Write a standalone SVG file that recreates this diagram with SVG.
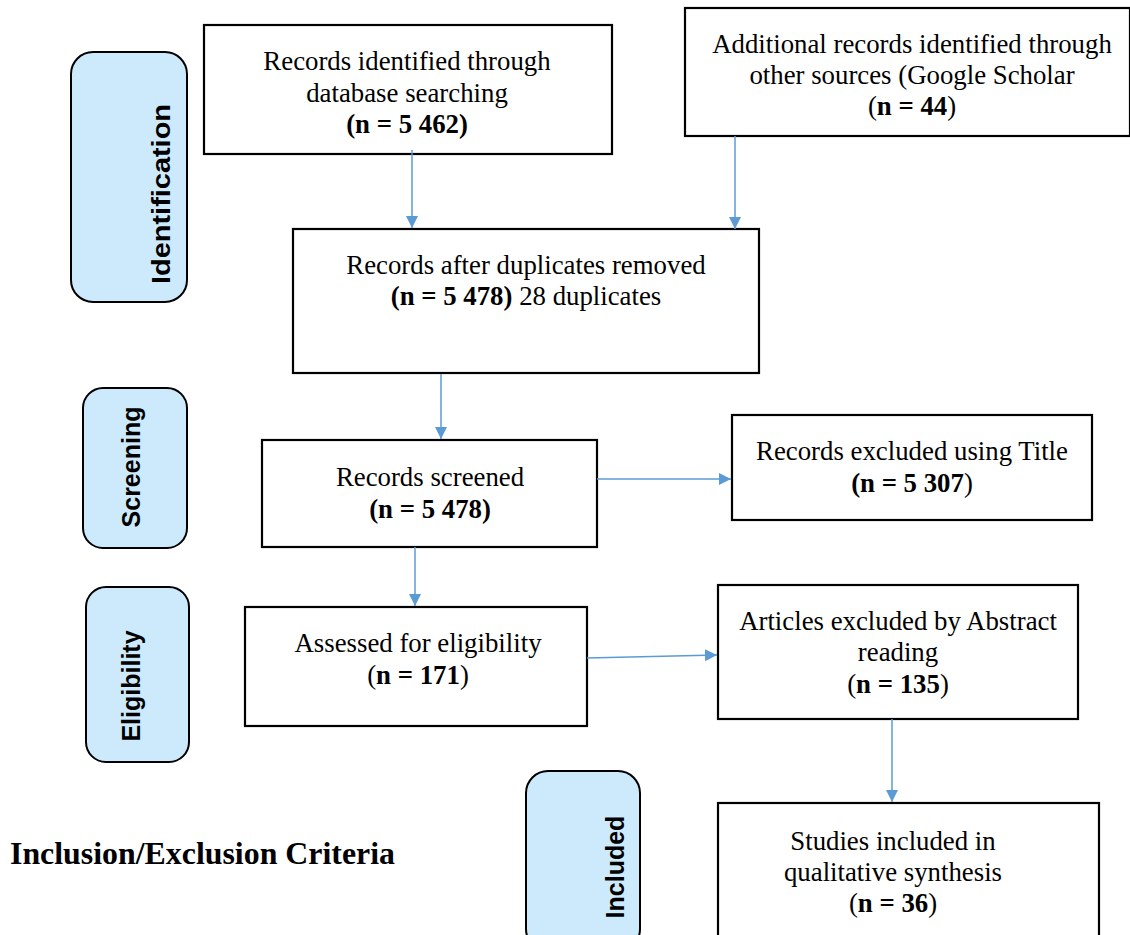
<svg xmlns="http://www.w3.org/2000/svg" width="1130" height="935" viewBox="0 0 1130 935">
<style>
.box{fill:#fff;stroke:#000;stroke-width:2.2}
.pill{fill:#cdeafd;stroke:#000;stroke-width:2}
.t{font-family:"Liberation Serif","Times New Roman",serif;font-size:26.8px;fill:#000;text-anchor:middle}
.b{font-weight:bold}
.p{font-family:"Liberation Sans",Arial,sans-serif;font-size:25px;font-weight:bold;fill:#000;text-anchor:middle}
.c{stroke:#5b9bd5;stroke-width:1.5;fill:none}
</style>
<defs>
<marker id="ah" viewBox="0 0 10 10" refX="10" refY="5" markerWidth="12" markerHeight="12" markerUnits="userSpaceOnUse" orient="auto">
<path d="M0,0 L10,5 L0,10 z" fill="#5b9bd5"/>
</marker>
</defs>
<rect width="1130" height="935" fill="#fff"/>

<g id="stage-identification">
<rect class="pill" x="71" y="52" width="116" height="250" rx="22"/>
<text class="p" transform="translate(170,194) rotate(-90)" textLength="180" lengthAdjust="spacingAndGlyphs">Identification</text>
</g>
<g id="stage-screening">
<rect class="pill" x="83" y="388" width="104" height="160" rx="20"/>
<text class="p" transform="translate(140,467) rotate(-90)">Screening</text>
</g>
<g id="stage-eligibility">
<rect class="pill" x="86" y="587" width="103" height="175" rx="20"/>
<text class="p" transform="translate(140,686) rotate(-90)">Eligibility</text>
</g>
<g id="stage-included">
<rect class="pill" x="526" y="771" width="114" height="180" rx="22"/>
<text class="p" transform="translate(624,867) rotate(-90)">Included</text>
</g>

<g id="n-database">
<rect class="box" x="204" y="25" width="408" height="129"/>
<text class="t" x="407" y="70">Records identified through</text>
<text class="t" x="407" y="102">database searching</text>
<text class="t b" x="407" y="133">(n = 5 462)</text>
</g>
<g id="n-other">
<rect class="box" x="685" y="8" width="445" height="128"/>
<text class="t" x="912" y="53">Additional records identified through</text>
<text class="t" x="912" y="84">other sources (Google Scholar</text>
<text class="t" x="912" y="115"><tspan>(</tspan><tspan class="b">n = 44</tspan><tspan>)</tspan></text>
</g>
<g id="n-dedup">
<rect class="box" x="293" y="229" width="466" height="144"/>
<text class="t" x="526" y="274">Records after duplicates removed</text>
<text class="t" x="526" y="305"><tspan class="b">(n = 5 478)</tspan><tspan> 28 duplicates</tspan></text>
</g>
<g id="n-screened">
<rect class="box" x="262" y="440" width="335" height="107"/>
<text class="t" x="430" y="486">Records screened</text>
<text class="t b" x="430" y="518">(n = 5 478)</text>
</g>
<g id="n-title">
<rect class="box" x="732" y="415" width="360" height="105"/>
<text class="t" x="912" y="460">Records excluded using Title</text>
<text class="t" x="912" y="492"><tspan class="b">(n = 5 307</tspan><tspan>)</tspan></text>
</g>
<g id="n-eligibility">
<rect class="box" x="245" y="607" width="342" height="119"/>
<text class="t" x="418" y="652">Assessed for eligibility</text>
<text class="t" x="418" y="684"><tspan>(</tspan><tspan class="b">n = 171</tspan><tspan>)</tspan></text>
</g>
<g id="n-abstract">
<rect class="box" x="718" y="585" width="360" height="134"/>
<text class="t" x="898" y="630">Articles excluded by Abstract</text>
<text class="t" x="898" y="661">reading</text>
<text class="t" x="898" y="693"><tspan>(</tspan><tspan class="b">n = 135</tspan><tspan>)</tspan></text>
</g>
<g id="n-included">
<rect class="box" x="718" y="803" width="381" height="150"/>
<text class="t" x="893" y="850">Studies included in</text>
<text class="t" x="893" y="881">qualitative synthesis</text>
<text class="t" x="893" y="912"><tspan>(</tspan><tspan class="b">n = 36</tspan><tspan>)</tspan></text>
</g>

<text x="10" y="864" font-family="Liberation Serif,'Times New Roman',serif" font-size="32" font-weight="bold" fill="#000" textLength="385" lengthAdjust="spacingAndGlyphs">Inclusion/Exclusion Criteria</text>

<g id="connectors">
<line class="c" x1="412" y1="150" x2="412" y2="228" marker-end="url(#ah)"/>
<line class="c" x1="735" y1="136" x2="735" y2="229" marker-end="url(#ah)"/>
<line class="c" x1="441" y1="374" x2="441" y2="439" marker-end="url(#ah)"/>
<line class="c" x1="597" y1="479" x2="731" y2="479" marker-end="url(#ah)"/>
<line class="c" x1="415" y1="547" x2="415" y2="606" marker-end="url(#ah)"/>
<line class="c" x1="587" y1="658" x2="717" y2="655" marker-end="url(#ah)"/>
<line class="c" x1="892" y1="719" x2="892" y2="802" marker-end="url(#ah)"/>
</g>
</svg>
